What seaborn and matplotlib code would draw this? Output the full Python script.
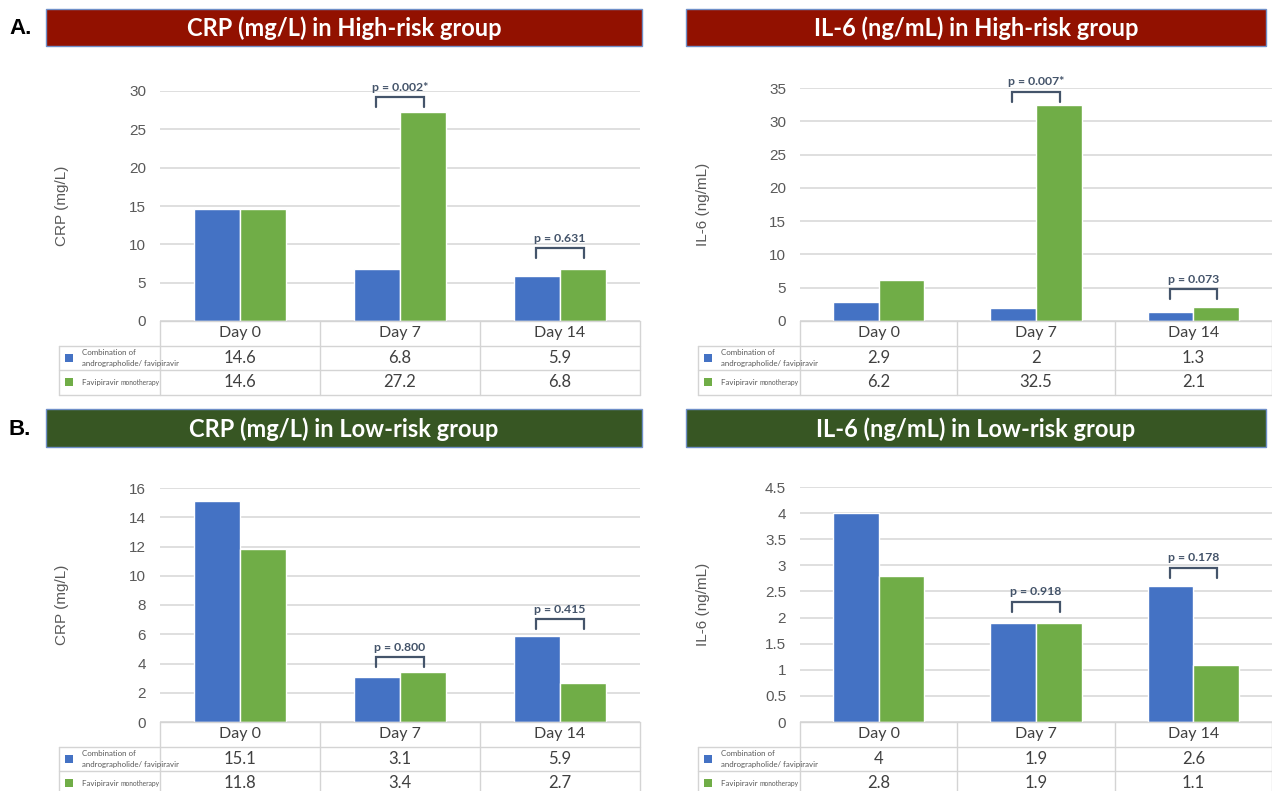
import matplotlib
matplotlib.use("Agg")
import matplotlib.pyplot as plt
import seaborn as sns
import pandas as pd
from matplotlib.patches import Rectangle
from matplotlib.lines import Line2D

# ---------------- data ----------------
days = ["Day 0", "Day 7", "Day 14"]
groups = ["Combination of andrographolide/ favipiravir", "Favipiravir monotherapy"]

crp_high_combo = [14.6, 6.8, 5.9]
crp_high_favi = [14.6, 27.2, 6.8]
il6_high_combo = [2.9, 2, 1.3]
il6_high_favi = [6.2, 32.5, 2.1]
crp_low_combo = [15.1, 3.1, 5.9]
crp_low_favi = [11.8, 3.4, 2.7]
il6_low_combo = [4, 1.9, 2.6]
il6_low_favi = [2.8, 1.9, 1.1]

crp_high_p = ["", "p = 0.002*", "p = 0.631"]
il6_high_p = ["", "p = 0.007*", "p = 0.073"]
crp_low_p = ["", "p = 0.800", "p = 0.415"]
il6_low_p = ["", "p = 0.918", "p = 0.178"]

# bracket levels (data units)
crp_high_bracket = [None, 29.2, 9.5]
il6_high_bracket = [None, 34.4, 4.8]
crp_low_bracket = [None, 4.44, 7.04]
il6_low_bracket = [None, 2.30, 2.95]

crp_high_ticks = [0, 5, 10, 15, 20, 25, 30]
il6_high_ticks = [0, 5, 10, 15, 20, 25, 30, 35]
crp_low_ticks = [0, 2, 4, 6, 8, 10, 12, 14, 16]
il6_low_ticks = [0, 0.5, 1, 1.5, 2, 2.5, 3, 3.5, 4, 4.5]

titles = ["CRP (mg/L) in High-risk group", "IL-6 (ng/mL) in High-risk group",
          "CRP (mg/L) in Low-risk group", "IL-6 (ng/mL) in Low-risk group"]
ylabels = ["CRP (mg/L)", "IL-6 (ng/mL)", "CRP (mg/L)", "IL-6 (ng/mL)"]
letters = ["A.", None, "B.", None]

# ---------------- style ----------------
sns.set_style("white")
plt.rcParams["font.family"] = ["Liberation Sans", "DejaVu Sans"]

BLUE = "#4472C4"
GREEN = "#70AD47"
RED_BANNER = "#921100"
GREEN_BANNER = "#375623"
GRID = "#D9D9D9"
TLINE = "#D4D4D4"
TXT = "#595959"
VAL = "#404040"
BRK = "#44546A"
CAL = ["Lato", "DejaVu Sans"]

W, H = 1272, 791
fig = plt.figure(figsize=(W / 100, H / 100), dpi=100)
fig.patch.set_facecolor("white")


def fx(x):
    return x / W


def fy(y):
    return 1 - y / H


def fline(x0, y0, x1, y1, color=TLINE, lw=1.0):
    fig.add_artist(Line2D([fx(x0), fx(x1)], [fy(y0), fy(y1)],
                          transform=fig.transFigure, color=color, lw=lw))


layout = [
    dict(banner=(46, 9, 642, 46), bcol=RED_BANNER, lx=59, al=160, ar=640, top=91, zero=321, ylx=62, let_y=28),
    dict(banner=(686, 9, 1266, 46), bcol=RED_BANNER, lx=698, al=800, ar=1272, top=88, zero=321, ylx=703, let_y=28),
    dict(banner=(46, 409, 642, 447), bcol=GREEN_BANNER, lx=59, al=160, ar=640, top=488, zero=722, ylx=62, let_y=429),
    dict(banner=(686, 409, 1266, 447), bcol=GREEN_BANNER, lx=698, al=800, ar=1272, top=487, zero=722, ylx=703, let_y=429),
]

series = [
    (crp_high_combo, crp_high_favi, crp_high_p, crp_high_bracket, crp_high_ticks),
    (il6_high_combo, il6_high_favi, il6_high_p, il6_high_bracket, il6_high_ticks),
    (crp_low_combo, crp_low_favi, crp_low_p, crp_low_bracket, crp_low_ticks),
    (il6_low_combo, il6_low_favi, il6_low_p, il6_low_bracket, il6_low_ticks),
]

renderer = fig.canvas.get_renderer()

for k, (g, (combo, favi, pvals, brackets, ticks)) in enumerate(zip(layout, series)):
    # banner
    x0, y0, x1, y1 = g["banner"]
    fig.add_artist(Rectangle((fx(x0), fy(y1)), (x1 - x0) / W, (y1 - y0) / H,
                             transform=fig.transFigure, facecolor=g["bcol"],
                             edgecolor="#6F8FC8", lw=1.0))
    fig.text(fx((x0 + x1) / 2), fy((y0 + y1) / 2 + 1), titles[k], color="white",
             family=CAL, weight="bold", fontsize=17, ha="center", va="center")
    if letters[k]:
        fig.text(fx(9), fy(g["let_y"]), letters[k], family=["Liberation Sans"],
                 weight="bold", fontsize=16, ha="left", va="center", color="black")

    # chart axes
    al, ar, top, zero = g["al"], g["ar"], g["top"], g["zero"]
    ax = fig.add_axes([fx(al), fy(zero), (ar - al) / W, (zero - top) / H])
    df = pd.DataFrame({
        "day": days * 2,
        "group": [groups[0]] * len(days) + [groups[1]] * len(days),
        "value": list(combo) + list(favi),
    })
    sns.barplot(data=df, x="day", y="value", hue="group", order=days, hue_order=groups,
                palette=[BLUE, GREEN], width=0.58, saturation=1, errorbar=None,
                legend=False, ax=ax, zorder=3)
    ax.set_xlim(-0.5, len(days) - 0.5)
    ax.set_ylim(0, ticks[-1])
    ax.set_yticks(ticks)
    ax.set_yticklabels([f"{t:g}" for t in ticks])
    ax.set_xticks([])
    ax.set_xlabel("")
    ax.set_ylabel("")
    ax.set_facecolor("none")
    for s in ax.spines.values():
        s.set_visible(False)
    ax.yaxis.grid(True, color=GRID, lw=1.2, zorder=0)
    ax.set_axisbelow(True)
    ax.tick_params(axis="y", length=0, pad=10, labelsize=11, labelcolor=TXT)

    # brackets
    ppu = (zero - top) / ticks[-1]
    tl = 10 / ppu
    for i, (pv, b) in enumerate(zip(pvals, brackets)):
        if b is None:
            continue
        xa, xb = i - 0.15, i + 0.15
        ax.plot([xa, xa, xb, xb], [b - tl, b, b, b - tl], color=BRK, lw=1.6,
                clip_on=False, solid_joinstyle="miter", zorder=5)
        ax.text(i, b + 10 / ppu, pv, ha="center", va="center", color=BRK,
                family=CAL, weight="bold", fontsize=8.8, clip_on=False)

    # y label
    fig.text(fx(g["ylx"]), fy((top + zero) / 2), ylabels[k], rotation=90,
             ha="center", va="center", fontsize=11, color=TXT,
             family=["Liberation Sans"])

    # table
    rh = 24.5
    lx = g["lx"]
    cw = (ar - al) / len(days)
    r0, r1, r2, r3 = zero, zero + rh, zero + 2 * rh, zero + 3 * rh
    fline(al, r0, ar, r0)
    fline(lx, r1, ar, r1)
    fline(lx, r2, ar, r2)
    fline(lx, r3, ar, r3)
    fline(lx, r1, lx, r3)
    for j in range(len(days) + 1):
        xx = al + j * cw
        fline(xx, r0, xx, r3)
    for j, d in enumerate(days):
        cx = al + (j + 0.5) * cw
        fig.text(fx(cx), fy(r0 + rh / 2), d, ha="center", va="center",
                 family=CAL, fontsize=11.5, color=VAL)
        fig.text(fx(cx), fy(r1 + rh / 2), f"{combo[j]:g}", ha="center", va="center",
                 family=CAL, fontsize=12, color=VAL)
        fig.text(fx(cx), fy(r2 + rh / 2), f"{favi[j]:g}", ha="center", va="center",
                 family=CAL, fontsize=12, color=VAL)
    # legend keys
    sw = 8
    for r, col in ((r1, BLUE), (r2, GREEN)):
        yc = r + rh / 2
        fig.add_artist(Rectangle((fx(lx + 6), fy(yc + sw / 2)), sw / W, sw / H,
                                 transform=fig.transFigure, facecolor=col, edgecolor="none"))
    fig.text(fx(lx + 23), fy(r1 + rh / 2 - 5.5), "Combination of", ha="left", va="center",
             family=CAL, fontsize=5.7, color=TXT)
    fig.text(fx(lx + 23), fy(r1 + rh / 2 + 5.5), "andrographolide/ favipiravir", ha="left",
             va="center", family=CAL, fontsize=5.7, color=TXT)
    t1 = fig.text(fx(lx + 23), fy(r2 + rh / 2), "Favipiravir ", ha="left", va="center",
                  family=CAL, fontsize=5.7, color=TXT)
    bb = t1.get_window_extent(renderer)
    fig.text(bb.x1 / W, fy(r2 + rh / 2), "monotherapy", ha="left", va="center",
             family=CAL, fontsize=4.8, color=TXT)

fig.savefig("out.png", dpi=100, facecolor="white")
